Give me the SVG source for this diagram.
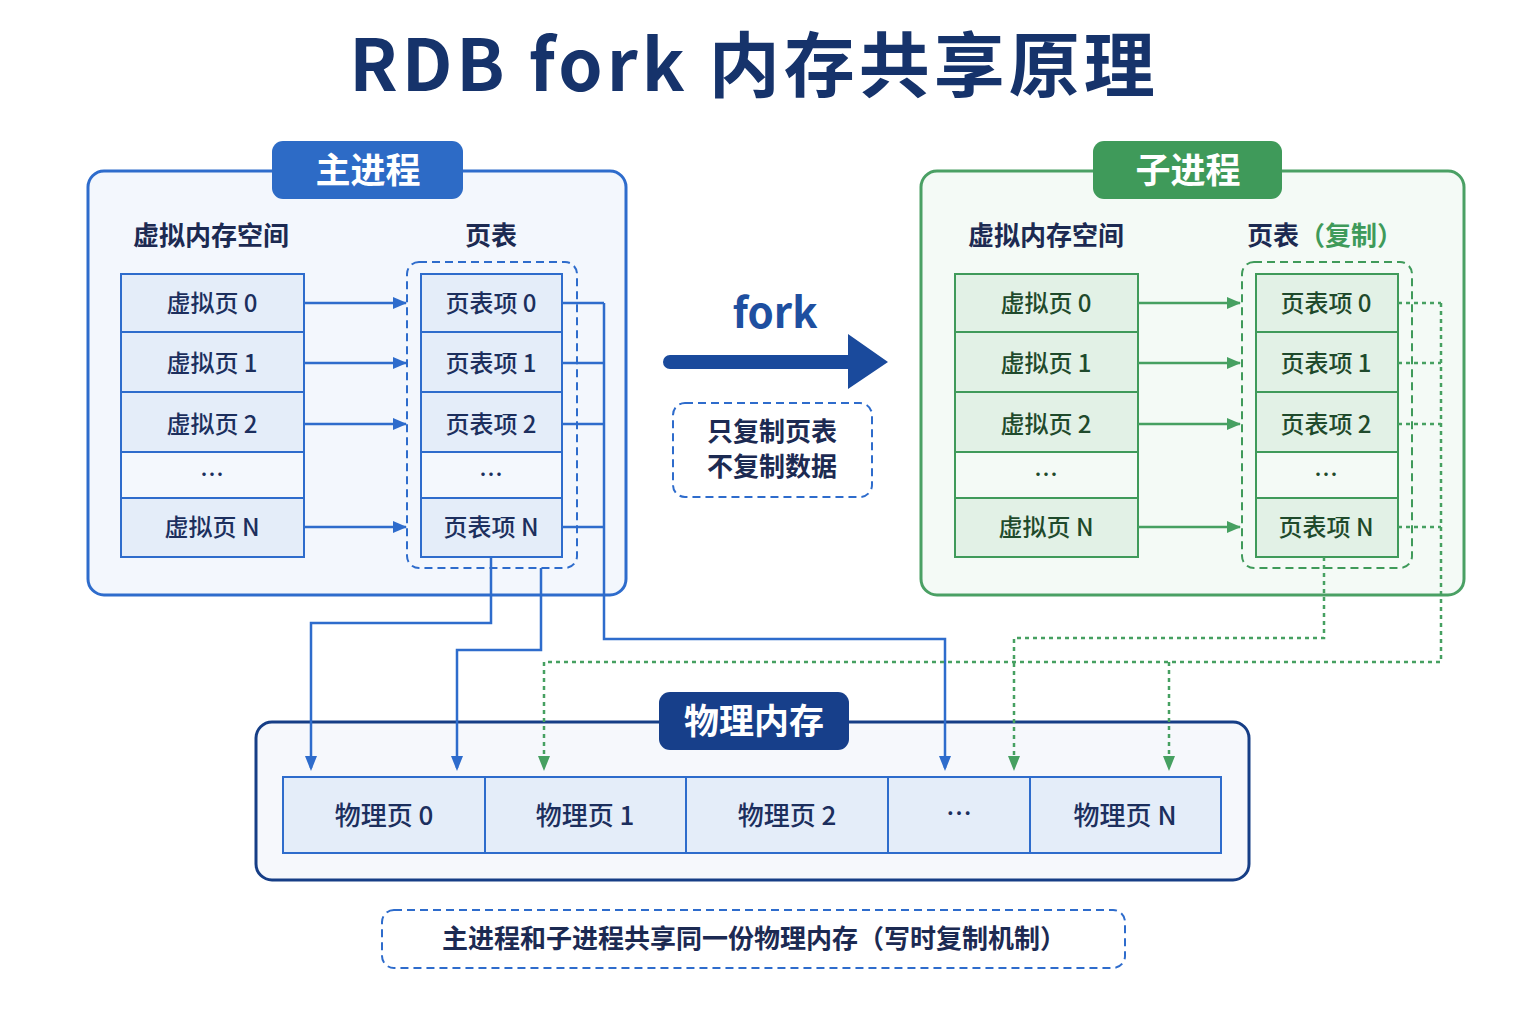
<svg xmlns="http://www.w3.org/2000/svg" width="1536" height="1024" viewBox="0 0 1536 1024">
<defs>
<marker id="ab" viewBox="0 0 14 12" refX="13" refY="6" markerWidth="14" markerHeight="12" markerUnits="userSpaceOnUse" orient="auto"><path d="M0,0 L14,6 L0,12 z" fill="#2e6ccc"/></marker>
<marker id="ag" viewBox="0 0 14 12" refX="13" refY="6" markerWidth="14" markerHeight="12" markerUnits="userSpaceOnUse" orient="auto"><path d="M0,0 L14,6 L0,12 z" fill="#46a061"/></marker>
</defs>
<style>
text{font-family:"Noto Sans CJK SC","Noto Sans",sans-serif;}
.ttl{font-size:71px;font-weight:700;fill:#16336b;text-anchor:middle;letter-spacing:4px;}
.pill{font-size:35px;font-weight:700;fill:#ffffff;text-anchor:middle;}
.hdr{font-size:26px;font-weight:700;fill:#1c2a52;text-anchor:middle;}
.cell{font-size:24px;font-weight:500;fill:#1c2f5e;text-anchor:middle;}
.gcell{font-size:24px;font-weight:500;fill:#1f4a2c;text-anchor:middle;}
.pcell{font-size:26px;font-weight:500;fill:#1c2f5e;text-anchor:middle;}
.bcellbox{fill:#e4edf9;stroke:#2e6ccc;stroke-width:2;}
.gcellbox{fill:#e2f1e6;stroke:#3f9a5a;stroke-width:2;}
.blink{stroke:#2e6ccc;stroke-width:2.5;fill:none;}
.glink{stroke:#46a061;stroke-width:2.5;fill:none;stroke-dasharray:4 4;}
</style>
<rect width="1536" height="1024" fill="#ffffff"/>
<text class="ttl" x="754" y="91">RDB fork 内存共享原理</text>

<g id="main-process">
<rect x="88" y="171" width="538" height="424" rx="16" fill="#f3f7fd" stroke="#2e6ccc" stroke-width="3"/>
<rect x="272" y="141" width="191" height="58" rx="11" fill="#2d6bc6"/>
<text class="pill" x="368" y="183">主进程</text>
<text class="hdr" x="211" y="245">虚拟内存空间</text>
<text class="hdr" x="491" y="245">页表</text>
<g id="main-vpages">
<rect class="bcellbox" x="121" y="274" width="183" height="58"/>
<rect class="bcellbox" x="121" y="332" width="183" height="60"/>
<rect class="bcellbox" x="121" y="392" width="183" height="60"/>
<rect x="121" y="452" width="183" height="46" fill="#f4f8fd" stroke="#2e6ccc" stroke-width="2"/>
<rect class="bcellbox" x="121" y="498" width="183" height="59"/>
<text class="cell" x="212" y="312">虚拟页 0</text>
<text class="cell" x="212" y="372">虚拟页 1</text>
<text class="cell" x="212" y="433">虚拟页 2</text>
<text class="cell" x="212" y="483">…</text>
<text class="cell" x="212" y="536">虚拟页 N</text>
</g>
<g id="main-pagetable">
<rect x="407" y="262" width="170" height="306" rx="12" fill="none" stroke="#2e6ccc" stroke-width="2" stroke-dasharray="8 5"/>
<rect class="bcellbox" x="421" y="274" width="141" height="58"/>
<rect class="bcellbox" x="421" y="332" width="141" height="60"/>
<rect class="bcellbox" x="421" y="392" width="141" height="60"/>
<rect x="421" y="452" width="141" height="46" fill="#f4f8fd" stroke="#2e6ccc" stroke-width="2"/>
<rect class="bcellbox" x="421" y="498" width="141" height="59"/>
<text class="cell" x="491" y="312">页表项 0</text>
<text class="cell" x="491" y="372">页表项 1</text>
<text class="cell" x="491" y="433">页表项 2</text>
<text class="cell" x="491" y="483">…</text>
<text class="cell" x="491" y="536">页表项 N</text>
</g>
</g>

<g id="child-process">
<rect x="921" y="171" width="543" height="424" rx="16" fill="#f4faf6" stroke="#4aa064" stroke-width="3"/>
<rect x="1093" y="141" width="189" height="58" rx="11" fill="#3f9a5a"/>
<text class="pill" x="1188" y="183">子进程</text>
<text class="hdr" x="1046" y="245">虚拟内存空间</text>
<text class="hdr" x="1325" y="245">页表<tspan fill="#3f9a5a">（复制）</tspan></text>
<g id="child-vpages">
<rect class="gcellbox" x="955" y="274" width="183" height="58"/>
<rect class="gcellbox" x="955" y="332" width="183" height="60"/>
<rect class="gcellbox" x="955" y="392" width="183" height="60"/>
<rect x="955" y="452" width="183" height="46" fill="#f4faf6" stroke="#3f9a5a" stroke-width="2"/>
<rect class="gcellbox" x="955" y="498" width="183" height="59"/>
<text class="gcell" x="1046" y="312">虚拟页 0</text>
<text class="gcell" x="1046" y="372">虚拟页 1</text>
<text class="gcell" x="1046" y="433">虚拟页 2</text>
<text class="gcell" x="1046" y="483">…</text>
<text class="gcell" x="1046" y="536">虚拟页 N</text>
</g>
<g id="child-pagetable">
<rect x="1242" y="262" width="170" height="306" rx="12" fill="none" stroke="#3f9a5a" stroke-width="2" stroke-dasharray="8 5"/>
<rect class="gcellbox" x="1256" y="274" width="142" height="58"/>
<rect class="gcellbox" x="1256" y="332" width="142" height="60"/>
<rect class="gcellbox" x="1256" y="392" width="142" height="60"/>
<rect x="1256" y="452" width="142" height="46" fill="#f4faf6" stroke="#3f9a5a" stroke-width="2"/>
<rect class="gcellbox" x="1256" y="498" width="142" height="59"/>
<text class="gcell" x="1326" y="312">页表项 0</text>
<text class="gcell" x="1326" y="372">页表项 1</text>
<text class="gcell" x="1326" y="433">页表项 2</text>
<text class="gcell" x="1326" y="483">…</text>
<text class="gcell" x="1326" y="536">页表项 N</text>
</g>
</g>

<g id="fork">
<text x="775" y="328" font-size="42" font-weight="700" fill="#1e4fa0" text-anchor="middle">fork</text>
<path d="M670,355 L848,355 L848,334 L888,362 L848,389 L848,369 L670,369 A7,7 0 0 1 670,355 z" fill="#1a4a9c"/>
<rect x="673" y="403" width="199" height="94" rx="12" fill="#ffffff" stroke="#2e6ccc" stroke-width="2" stroke-dasharray="8 5"/>
<text class="hdr" x="772" y="441" font-weight="600">只复制页表</text>
<text class="hdr" x="772" y="476" font-weight="600">不复制数据</text>
</g>

<g id="physical-memory">
<rect x="256" y="722" width="993" height="158" rx="16" fill="#f6f8fc" stroke="#163e86" stroke-width="3"/>
<rect x="659" y="692" width="190" height="58" rx="11" fill="#173f8a"/>
<text class="pill" x="754" y="734">物理内存</text>
<rect class="bcellbox" x="283" y="777" width="202" height="76"/>
<rect class="bcellbox" x="485" y="777" width="201" height="76"/>
<rect class="bcellbox" x="686" y="777" width="202" height="76"/>
<rect class="bcellbox" x="888" y="777" width="142" height="76"/>
<rect class="bcellbox" x="1030" y="777" width="191" height="76"/>
<text class="pcell" x="384" y="825">物理页 0</text>
<text class="pcell" x="585" y="825">物理页 1</text>
<text class="pcell" x="787" y="825">物理页 2</text>
<text class="pcell" x="959" y="823">…</text>
<text class="pcell" x="1125" y="825">物理页 N</text>
</g>

<g id="note">
<rect x="382" y="910" width="743" height="58" rx="12" fill="#ffffff" stroke="#2e6ccc" stroke-width="2" stroke-dasharray="8 5"/>
<text x="754" y="948" font-size="26" font-weight="600" fill="#1c2a52" text-anchor="middle">主进程和子进程共享同一份物理内存（写时复制机制）</text>
</g>

<g id="connectors">
<line class="blink" x1="304" y1="303" x2="406" y2="303" marker-end="url(#ab)"/>
<line class="blink" x1="304" y1="363" x2="406" y2="363" marker-end="url(#ab)"/>
<line class="blink" x1="304" y1="424" x2="406" y2="424" marker-end="url(#ab)"/>
<line class="blink" x1="304" y1="527" x2="406" y2="527" marker-end="url(#ab)"/>
<line x1="1138" y1="303" x2="1240" y2="303" stroke="#46a061" stroke-width="2.5" marker-end="url(#ag)"/>
<line x1="1138" y1="363" x2="1240" y2="363" stroke="#46a061" stroke-width="2.5" marker-end="url(#ag)"/>
<line x1="1138" y1="424" x2="1240" y2="424" stroke="#46a061" stroke-width="2.5" marker-end="url(#ag)"/>
<line x1="1138" y1="527" x2="1240" y2="527" stroke="#46a061" stroke-width="2.5" marker-end="url(#ag)"/>

<path class="blink" d="M562,303 H604 M562,363 H604 M562,424 H604 M562,527 H604"/>
<path class="blink" d="M604,303 V639 H945 V768"/>
<path class="blink" d="M491,557 V623 H311 V768"/>
<path class="blink" d="M541,568 V650 H457 V768"/>
<path d="M939,756 L951,756 L945,771 z M305,756 L317,756 L311,771 z M451,756 L463,756 L457,771 z" fill="#2e6ccc"/>

<path class="glink" d="M1398,303 H1441 M1398,363 H1441 M1398,424 H1441 M1398,527 H1441"/>
<path class="glink" d="M1441,303 V662 H544 V760"/>
<path class="glink" d="M1169,662 V760"/>
<path class="glink" d="M1324,557 V638 H1014 V760"/>
<path d="M538,756 L550,756 L544,771 z M1008,756 L1020,756 L1014,771 z M1163,756 L1175,756 L1169,771 z" fill="#46a061"/>
</g>
</svg>
